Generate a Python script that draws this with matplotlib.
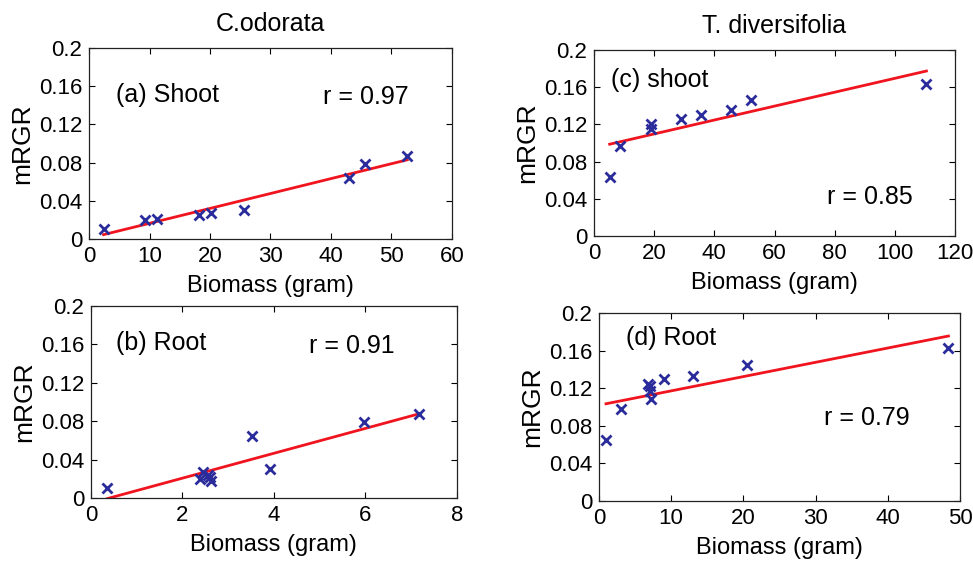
import matplotlib
matplotlib.use('Agg')
import matplotlib.pyplot as plt
import numpy as np

plt.rcParams['font.family'] = ['Liberation Sans', 'DejaVu Sans']

# (a) C.odorata shoot
shoot_c_x = [2.4, 9.2, 11.2, 18.1, 20.2, 25.6, 43.0, 45.6, 52.6]
shoot_c_y = [0.010, 0.020, 0.021, 0.025, 0.027, 0.030, 0.064, 0.079, 0.087]
# (b) C.odorata root
root_c_x = [0.36, 2.38, 2.46, 2.55, 2.60, 2.62, 3.52, 3.91, 5.96, 7.18]
root_c_y = [0.010, 0.020, 0.027, 0.024, 0.022, 0.018, 0.065, 0.030, 0.079, 0.087]
# (c) T. diversifolia shoot
shoot_t_x = [5.2, 8.6, 18.8, 18.8, 28.8, 35.7, 45.7, 52.3, 110.5]
shoot_t_y = [0.064, 0.097, 0.115, 0.120, 0.126, 0.130, 0.135, 0.146, 0.163]
# (d) T. diversifolia root
root_t_x = [0.97, 3.1, 6.8, 7.0, 7.1, 7.25, 9.0, 13.0, 20.5, 48.4]
root_t_y = [0.065, 0.098, 0.125, 0.122, 0.117, 0.109, 0.130, 0.133, 0.145, 0.163]

r_vals = ['0.97', '0.91', '0.85', '0.79']

panels = [
    # x, y, rect, xlim, xticks, label, label pos, r pos, r, title
    (shoot_c_x, shoot_c_y, [0.0915, 0.5747, 0.373, 0.340], 60, np.arange(0, 61, 10),
     '(a) Shoot', (4.5, 0.151), (38.7, 0.149), r_vals[0], 'C.odorata'),
    (root_c_x, root_c_y, [0.0935, 0.1139, 0.376, 0.3416], 8, np.arange(0, 9, 2),
     '(b) Root', (0.55, 0.161), (4.76, 0.158), r_vals[1], None),
    (shoot_t_x, shoot_t_y, [0.6105, 0.580, 0.371, 0.331], 120, np.arange(0, 121, 20),
     '(c) shoot', (5.8, 0.168), (77.6, 0.042), r_vals[2], 'T. diversifolia'),
    (root_t_x, root_t_y, [0.6156, 0.1085, 0.371, 0.3345], 50, np.arange(0, 51, 10),
     '(d) Root', (3.8, 0.173), (31.2, 0.088), r_vals[3], None),
]

yticks = [0, 0.04, 0.08, 0.12, 0.16, 0.2]
ytick_labels = ['0', '0.04', '0.08', '0.12', '0.16', '0.2']

fig = plt.figure(figsize=(9.73, 5.62), dpi=100)

for x, y, rect, xmax, xticks, label, lpos, rpos, r, title in panels:
    ax = fig.add_axes(rect)
    x = np.asarray(x)
    y = np.asarray(y)
    k, b = np.polyfit(x, y, 1)
    xf = np.array([x.min(), x.max()])
    ax.plot(xf, k * xf + b, color='#f0141e', linewidth=2)
    ax.plot(x, y, 'x', color='#2b2c9c', markersize=7, markeredgewidth=2)
    ax.set_xlim(0, xmax)
    ax.set_ylim(0, 0.2)
    ax.set_xticks(xticks)
    ax.set_yticks(yticks)
    ax.set_yticklabels(ytick_labels)
    ax.tick_params(direction='in', top=True, right=True, labelsize=16,
                   length=4, width=0.8, pad=5)
    for s in ax.spines.values():
        s.set_linewidth(0.9)
        s.set_color('#222222')
    ax.set_xlabel('Biomass (gram)', fontsize=17, labelpad=6)
    ax.set_ylabel('mRGR', fontsize=19, labelpad=3)
    ax.text(lpos[0], lpos[1], label, fontsize=18, va='center', ha='left')
    ax.text(rpos[0], rpos[1], 'r = ' + r, fontsize=18, va='center', ha='left')
    if title:
        ax.set_title(title, fontsize=18, pad=12)

plt.savefig('out.png', dpi=100)
plt.close(fig)
